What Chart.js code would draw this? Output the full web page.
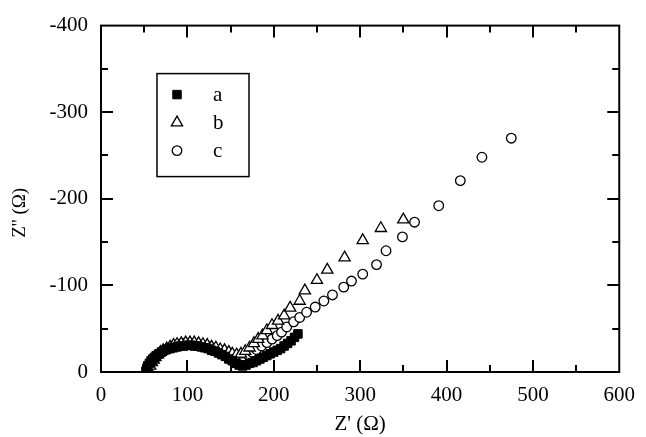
<!DOCTYPE html>
<html>
<head>
<meta charset="utf-8">
<script src="https://cdn.jsdelivr.net/npm/chart.js@4/dist/chart.umd.min.js"></script>
<style>
  html, body { margin: 0; padding: 0; background: #fff; }
  #wrap { width: 646px; height: 437px; }
</style>
</head>
<body>
<div id="wrap"><canvas id="nyquist"></canvas></div>
<script>
// Z' (ohm) and Z'' (ohm)
const seriesNames = ['a', 'b', 'c'];

const aRe = [52, 53, 54, 56, 58, 60, 62, 64, 67, 70, 73, 76, 80, 84, 88, 92, 96, 100, 104, 108, 112, 116, 120, 124, 128, 132, 136, 140, 144, 148, 152, 156, 160, 164, 168, 172, 176, 180, 184, 188, 192, 196, 200, 204, 208, 212, 216, 220, 224, 228];
const aIm = [-1, -4, -7, -10, -13, -15, -17, -19, -21, -23, -25, -26, -27, -28, -29, -30, -30, -31, -31, -30, -30, -29, -28, -27, -25, -24, -22, -20, -18, -15, -13, -10, -8, -7, -8, -10, -11, -13, -15, -17, -19, -21, -23, -25, -27, -30, -33, -36, -40, -44];

const bRe = [55, 57, 59, 61, 63, 66, 69, 72, 76, 80, 84, 88, 93, 98, 103, 108, 113, 118, 123, 128, 133, 138, 143, 148, 152, 157, 162, 167, 172, 177, 182, 187, 192, 198, 205, 212, 219, 230, 236, 250, 262, 282, 303, 324, 350];
const bIm = [-3, -7, -11, -14, -17, -20, -23, -25, -27, -29, -31, -32, -33, -34, -34, -34, -33, -32, -31, -29, -28, -26, -25, -23, -21, -20, -21, -24, -28, -33, -38, -42, -48, -54, -59, -65, -74, -82, -94, -106, -118, -132, -152, -166, -176];

const cRe = [53, 55, 57, 59, 62, 65, 68, 71, 75, 79, 83, 87, 91, 96, 101, 106, 111, 116, 121, 126, 131, 136, 141, 146, 150, 155, 160, 165, 170, 175, 180, 186, 192, 198, 204, 209, 215, 223, 230, 238, 248, 258, 268, 281, 290, 303, 319, 330, 349, 363, 391, 416, 441, 475];
const cIm = [-2, -6, -10, -13, -16, -19, -21, -24, -26, -28, -30, -31, -32, -33, -33, -33, -32, -31, -30, -29, -27, -25, -24, -22, -20, -18, -17, -18, -20, -23, -26, -30, -34, -38, -42, -46, -52, -58, -63, -69, -75, -82, -89, -98, -105, -113, -124, -140, -156, -173, -192, -221, -248, -270];

const toPoints = (re, im) => re.map((x, i) => ({ x: x, y: im[i] }));

const serif = 'Liberation Serif, Times New Roman, serif';

// frame with inward major/minor ticks on all four sides
const frameTicks = {
    id: 'frameTicks',
    afterDatasetsDraw(chart) {
        const ctx = chart.ctx;
        const area = chart.chartArea;
        const xs = chart.scales.x;
        const ys = chart.scales.y;
        ctx.save();
        ctx.strokeStyle = '#000';
        ctx.lineWidth = 2;
        ctx.strokeRect(area.left, area.top, area.right - area.left, area.bottom - area.top);
        ctx.beginPath();
        xs.ticks.forEach(t => {
            if (t.value === xs.min || t.value === xs.max) return;
            const px = Math.round(xs.getPixelForValue(t.value));
            const len = t.value % 100 === 0 ? 12 : 7;
            ctx.moveTo(px, area.bottom);
            ctx.lineTo(px, area.bottom - len);
            ctx.moveTo(px, area.top);
            ctx.lineTo(px, area.top + len);
        });
        ys.ticks.forEach(t => {
            if (t.value === ys.min || t.value === ys.max) return;
            const py = Math.round(ys.getPixelForValue(t.value));
            const len = t.value % 100 === 0 ? 12 : 7;
            ctx.moveTo(area.left, py);
            ctx.lineTo(area.left + len, py);
            ctx.moveTo(area.right, py);
            ctx.lineTo(area.right - len, py);
        });
        ctx.stroke();
        ctx.restore();
    }
};

// boxed legend inside the plot, plus the vertical axis title
const boxLegend = {
    id: 'boxLegend',
    afterDraw(chart) {
        const ctx = chart.ctx;
        const area = chart.chartArea;
        const left = area.left + 56;
        const top = area.top + 48;
        ctx.save();
        ctx.strokeStyle = '#000';
        ctx.lineWidth = 1.5;
        ctx.strokeRect(left, top, 92, 103);
        ctx.font = '21px ' + serif;
        ctx.textBaseline = 'middle';
        ctx.textAlign = 'left';
        chart.data.datasets.forEach((ds, i) => {
            const y = top + 21 + i * 28;
            ctx.fillStyle = ds.pointBackgroundColor;
            ctx.strokeStyle = '#000';
            ctx.lineWidth = ds.pointBorderWidth;
            Chart.helpers.drawPoint(ctx, {
                pointStyle: ds.pointStyle,
                radius: ds.pointRadius,
                rotation: 0,
                borderWidth: ds.pointBorderWidth
            }, left + 20, y);
            ctx.fillStyle = '#000';
            ctx.fillText(ds.label, left + 56, y + 1);
        });

        ctx.translate(20, (area.top + area.bottom) / 2 + 14);
        ctx.rotate(-Math.PI / 2);
        ctx.textAlign = 'center';
        ctx.font = '19px ' + serif;
        ctx.fillText("Z'' (\u03A9)", 0, 0);
        ctx.restore();
    }
};

new Chart(document.getElementById('nyquist').getContext('2d'), {
    type: 'scatter',
    data: {
        datasets: [{
            label: seriesNames[0],
            data: toPoints(aRe, aIm),
            pointStyle: 'rect',
            pointRadius: 6,
            pointBackgroundColor: '#000',
            pointBorderColor: '#000',
            pointBorderWidth: 1
        }, {
            label: seriesNames[1],
            data: toPoints(bRe, bIm),
            pointStyle: 'triangle',
            pointRadius: 6.5,
            pointBackgroundColor: '#fff',
            pointBorderColor: '#000',
            pointBorderWidth: 1.3
        }, {
            label: seriesNames[2],
            data: toPoints(cRe, cIm),
            pointStyle: 'circle',
            pointRadius: 4.8,
            pointBackgroundColor: '#fff',
            pointBorderColor: '#000',
            pointBorderWidth: 1.3
        }]
    },
    options: {
        responsive: true,
        maintainAspectRatio: false,
        animation: false,
        layout: {
            padding: { top: 22, right: 18, left: 0, bottom: 0 }
        },
        plugins: {
            legend: { display: false },
            tooltip: { enabled: false }
        },
        scales: {
            x: {
                type: 'linear',
                min: 0,
                max: 600,
                grid: { display: false, drawTicks: false },
                border: { display: false },
                ticks: {
                    stepSize: 50,
                    padding: 11,
                    color: '#000',
                    maxRotation: 0,
                    autoSkip: false,
                    font: { family: serif, size: 21 },
                    callback: v => (v % 100 === 0 ? String(v) : '')
                },
                title: {
                    display: true,
                    text: "Z' (\u03A9)",
                    color: '#000',
                    font: { family: serif, size: 21 },
                    padding: { top: 0, bottom: 0 }
                },
                afterFit: s => { s.height = 65; }
            },
            y: {
                type: 'linear',
                min: -400,
                max: 0,
                reverse: true,
                grid: { display: false, drawTicks: false },
                border: { display: false },
                ticks: {
                    stepSize: 50,
                    padding: 13,
                    color: '#000',
                    autoSkip: false,
                    font: { family: serif, size: 21 },
                    callback: v => (v % 100 === 0 ? String(v) : '')
                },
                afterFit: s => { s.width = 101; }
            }
        }
    },
    plugins: [frameTicks, boxLegend]
});
</script>
</body>
</html>
